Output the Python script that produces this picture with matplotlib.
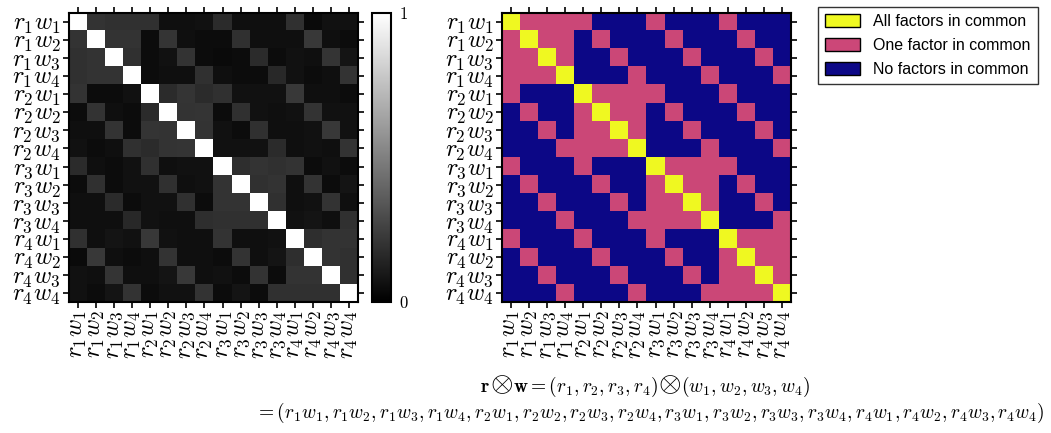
import numpy as np
import matplotlib
matplotlib.use("Agg")
import matplotlib.pyplot as plt
from matplotlib.colors import ListedColormap
from matplotlib.patches import Patch

plt.rcParams['mathtext.fontset'] = 'cm'
plt.rcParams['font.family'] = ['Liberation Sans', 'DejaVu Sans']

# product labels r_i w_j
labels = [r'$r_{%d}w_{%d}$' % (i, j) for i in range(1, 5) for j in range(1, 5)]

# similarity between product factors (left panel)
similarity = [
    [1.00, 0.20, 0.19, 0.19, 0.19, 0.06, 0.06, 0.07, 0.17, 0.06, 0.06, 0.06, 0.19, 0.04, 0.07, 0.07],
    [0.20, 1.00, 0.20, 0.20, 0.05, 0.21, 0.06, 0.05, 0.05, 0.19, 0.06, 0.06, 0.06, 0.22, 0.06, 0.05],
    [0.19, 0.20, 1.00, 0.19, 0.05, 0.07, 0.20, 0.05, 0.04, 0.05, 0.17, 0.05, 0.07, 0.06, 0.21, 0.08],
    [0.19, 0.20, 0.20, 1.00, 0.05, 0.06, 0.06, 0.19, 0.06, 0.05, 0.05, 0.16, 0.07, 0.05, 0.06, 0.20],
    [0.20, 0.05, 0.05, 0.07, 1.00, 0.17, 0.21, 0.17, 0.19, 0.07, 0.07, 0.07, 0.22, 0.06, 0.06, 0.05],
    [0.05, 0.20, 0.06, 0.05, 0.17, 1.00, 0.20, 0.21, 0.05, 0.19, 0.07, 0.06, 0.07, 0.20, 0.07, 0.07],
    [0.06, 0.06, 0.20, 0.05, 0.21, 0.20, 1.00, 0.20, 0.07, 0.05, 0.19, 0.06, 0.06, 0.07, 0.22, 0.07],
    [0.07, 0.05, 0.06, 0.19, 0.17, 0.20, 0.21, 1.00, 0.07, 0.07, 0.07, 0.17, 0.06, 0.07, 0.06, 0.20],
    [0.17, 0.06, 0.05, 0.07, 0.19, 0.06, 0.07, 0.07, 1.00, 0.18, 0.20, 0.19, 0.20, 0.05, 0.07, 0.05],
    [0.05, 0.19, 0.05, 0.07, 0.07, 0.19, 0.06, 0.07, 0.20, 1.00, 0.19, 0.20, 0.06, 0.20, 0.05, 0.08],
    [0.06, 0.06, 0.17, 0.05, 0.07, 0.07, 0.19, 0.05, 0.20, 0.20, 1.00, 0.19, 0.06, 0.07, 0.20, 0.06],
    [0.06, 0.06, 0.06, 0.16, 0.07, 0.06, 0.06, 0.18, 0.19, 0.19, 0.19, 1.00, 0.07, 0.08, 0.06, 0.19],
    [0.19, 0.06, 0.08, 0.07, 0.22, 0.07, 0.06, 0.06, 0.20, 0.06, 0.06, 0.07, 1.00, 0.18, 0.20, 0.20],
    [0.04, 0.22, 0.06, 0.05, 0.06, 0.20, 0.06, 0.06, 0.05, 0.20, 0.06, 0.08, 0.18, 1.00, 0.20, 0.19],
    [0.07, 0.06, 0.21, 0.06, 0.06, 0.08, 0.22, 0.06, 0.07, 0.05, 0.20, 0.05, 0.20, 0.20, 1.00, 0.19],
    [0.07, 0.05, 0.08, 0.20, 0.05, 0.07, 0.07, 0.20, 0.05, 0.08, 0.05, 0.19, 0.19, 0.19, 0.19, 1.00],
]

# shared factors: 2 = all, 1 = one, 0 = none (right panel)
shared = [
    "2111100010001000",
    "1211010001000100",
    "1121001000100010",
    "1112000100010001",
    "1000211110001000",
    "0100121101000100",
    "0010112100100010",
    "0001111200010001",
    "1000100021111000",
    "0100010012110100",
    "0010001011210010",
    "0001000111120001",
    "1000100010002111",
    "0100010001001211",
    "0010001000101121",
    "0001000100011112",
]
legend_labels = ['All factors in common', 'One factor in common', 'No factors in common']

W, H = 1051, 433
fig = plt.figure(figsize=(W / 100, H / 100), dpi=100)

def px(x0, y0, w, h):
    return [x0 / W, (H - y0 - h) / H, w / W, h / H]

def style_axis(ax):
    n = len(labels)
    ax.set_xticks(range(n))
    ax.set_yticks(range(n))
    ax.set_xticklabels(labels, rotation=90, fontsize=17.5)
    ax.set_yticklabels(labels, fontsize=17.5)
    ax.tick_params(axis='both', which='both', direction='out', length=4, width=1.2,
                   top=True, right=True, labeltop=False, labelright=False, pad=2)
    for s in ax.spines.values():
        s.set_linewidth(1.5)

ax1 = fig.add_axes(px(69, 13, 289, 289))
im = ax1.imshow(np.array(similarity), cmap='gray', vmin=0, vmax=1,
                interpolation='nearest', aspect='auto')
style_axis(ax1)

cax = fig.add_axes(px(372, 13, 19, 289))
cb = fig.colorbar(im, cax=cax, ticks=[0, 1])
cb.ax.set_yticklabels(['$0$', '$1$'], fontsize=12)
cb.ax.tick_params(length=0, pad=6)
cb.outline.set_linewidth(1.5)

plasma = plt.get_cmap('plasma')
cat_colors = [plasma(0.0), plasma(0.5), plasma(1.0)]
cat_cmap = ListedColormap(cat_colors)
cat = np.array([[int(c) for c in row] for row in shared])

ax2 = fig.add_axes(px(502, 13, 289, 289))
ax2.imshow(cat, cmap=cat_cmap, vmin=-0.5, vmax=2.5, interpolation='nearest', aspect='auto')
style_axis(ax2)

handles = [Patch(facecolor=cat_colors[k], edgecolor='black', linewidth=1) for k in (2, 1, 0)]
leg = fig.legend(handles, legend_labels, loc='upper left', bbox_to_anchor=(818 / W, 1 - 7 / H),
                 borderaxespad=0, fontsize=11.5, frameon=True, fancybox=False, edgecolor='black',
                 handlelength=2.2, handleheight=0.85, handletextpad=0.8,
                 borderpad=0.45, labelspacing=0.55)
leg.get_frame().set_linewidth(1.0)

# first line of the formula, with enlarged tensor-product signs
parts = [(r'$\mathbf{r}$', 14), (r'$\otimes$', 21), (r'$\mathbf{w}=(r_1,r_2,r_3,r_4)$', 14),
         (r'$\otimes$', 21), (r'$(w_1,w_2,w_3,w_4)$', 14)]
renderer = fig.canvas.get_renderer()
base_y = 1 - 392 / H
texts = [fig.text(0, base_y, s, fontsize=fs, ha='left', va='baseline') for s, fs in parts]
widths = [t.get_window_extent(renderer).width for t in texts]
x = 645 - sum(widths) / 2
for t, w in zip(texts, widths):
    t.set_x(x / W)
    x += w

fig.text(650 / W, 1 - 413 / H,
         r'$=(r_1w_1,r_1w_2,r_1w_3,r_1w_4,r_2w_1,r_2w_2,r_2w_3,r_2w_4,'
         r'r_3w_1,r_3w_2,r_3w_3,r_3w_4,r_4w_1,r_4w_2,r_4w_3,r_4w_4)$',
         ha='center', va='center', fontsize=14)

fig.savefig('out.png', dpi=100)
